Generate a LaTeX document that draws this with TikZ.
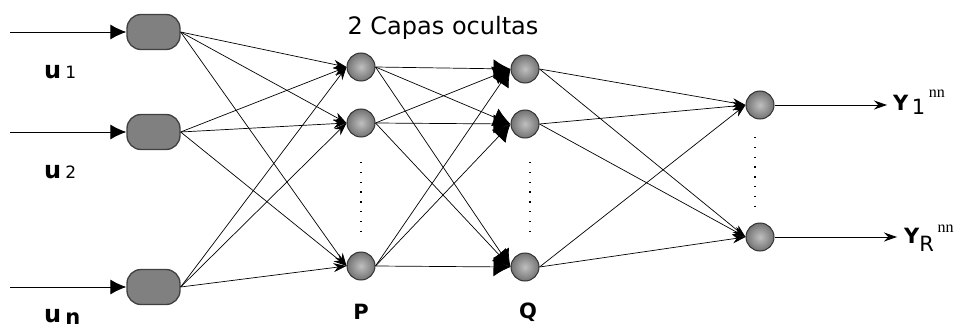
\documentclass[tikz,border=0pt]{standalone}
\usepackage{fontspec}
\setmainfont{DejaVu Sans}
\newfontfamily\serifnn{Liberation Serif}
\usetikzlibrary{arrows.meta,calc}
\begin{document}
\begin{tikzpicture}[x=1pt,y=-1pt,
  inbox/.style={draw=black!75,line width=1.3pt,fill=black!50,rounded corners=14pt,minimum width=53pt,minimum height=35pt,inner sep=0pt},
  neuron/.style={circle,draw=black!80,line width=1pt,shading=radial,inner color=black!25,outer color=black!55,minimum size=28pt,inner sep=0pt},
  inarrow/.style={line width=0.9pt,-{Latex[length=16pt,width=15pt]}},
  link/.style={line width=0.7pt,-{Stealth[length=13pt,width=9pt]}},
  biglink/.style={line width=0.7pt,-{Latex[length=17pt,width=19pt]}},
  outarrow/.style={line width=0.9pt,-{Stealth[length=13pt,width=9pt]}},
  lbl/.style={font=\fontsize{24}{26}\selectfont\bfseries,inner sep=0pt},
  dotline/.style={line width=1.3pt,dash pattern=on 1.3pt off 8.5pt}
]
\useasboundingbox (0,0) rectangle (966,329);
% input nodes
\node[inbox] (i1) at (153.5,32) {};
\node[inbox] (i2) at (153.5,132) {};
\node[inbox] (i3) at (153.5,287) {};
\coordinate (s1) at (10,32);
\coordinate (s2) at (10,132);
\coordinate (s3) at (10,287);
\draw[inarrow] (s1) -- (i1);
\draw[inarrow] (s2) -- (i2);
\draw[inarrow] (s3) -- (i3);
% hidden layer P
\node[neuron] (p1) at (361,67) {};
\node[neuron] (p2) at (361,123) {};
\node[neuron] (p3) at (361,266) {};
% hidden layer Q
\node[neuron] (q1) at (525,69) {};
\node[neuron] (q2) at (525,124) {};
\node[neuron] (q3) at (525,267) {};
% outputs
\node[neuron] (o1) at (760,105) {};
\node[neuron] (o2) at (760,237) {};
% input -> P
\foreach \i in {1,2,3}{\foreach \p in {1,2,3}{\draw[link] (i\i.east) -- (p\p.west);}}
% P -> Q
\foreach \p in {1,2,3}{\foreach \q in {1,2,3}{\draw[biglink] (p\p.east) -- (q\q.west);}}
% Q -> out
\foreach \q in {1,2,3}{\foreach \o in {1,2}{\draw[link] (q\q.east) -- (o\o.west);}}
% output arrows
\coordinate (e1) at (887,105);
\coordinate (e2) at (897,237);
\draw[outarrow] (o1) -- (e1);
\draw[outarrow] (o2) -- (e2);
% dots
\coordinate (dp1) at (361,162); \coordinate (dp2) at (361,232);
\coordinate (dq1) at (530,162); \coordinate (dq2) at (530,232);
\coordinate (do1) at (755,137); \coordinate (do2) at (755,210);
\draw[dotline] (dp1) -- (dp2);
\draw[dotline] (dq1) -- (dq2);
\draw[dotline] (do1) -- (do2);
% labels
\node[font=\fontsize{24}{26}\selectfont,inner sep=0pt] (title) at (443,28) {2 Capas ocultas};
\node[lbl,anchor=base west] (lu1) at (44,78) {u\,\fontsize{17}{18}\selectfont\mdseries 1};
\node[lbl,anchor=base west] (lu2) at (44,178) {u\,\fontsize{17}{18}\selectfont\mdseries 2};
\node[lbl,anchor=base west] (lu3) at (44,322) {u\,\fontsize{21}{21}\selectfont\raisebox{-2pt}{n}};
\node[font=\fontsize{21}{22}\selectfont\bfseries,inner sep=0pt] (lp) at (361,312) {P};
\node[font=\fontsize{21}{22}\selectfont\bfseries,inner sep=0pt] (lq) at (528,312) {Q};
\node[font=\fontsize{21}{22}\selectfont\bfseries,inner sep=0pt,anchor=base west] (ly1) at (893,110) {Y\,\raisebox{-5pt}{\mdseries 1}\,\raisebox{13pt}{\serifnn\mdseries\fontsize{16}{16}\selectfont nn}};
\node[font=\fontsize{21}{22}\selectfont\bfseries,inner sep=0pt,anchor=base west] (ly2) at (904,243) {Y\raisebox{-8pt}{\mdseries R}\,\raisebox{11pt}{\serifnn\mdseries\fontsize{16}{16}\selectfont nn}};
\end{tikzpicture}
\end{document}
